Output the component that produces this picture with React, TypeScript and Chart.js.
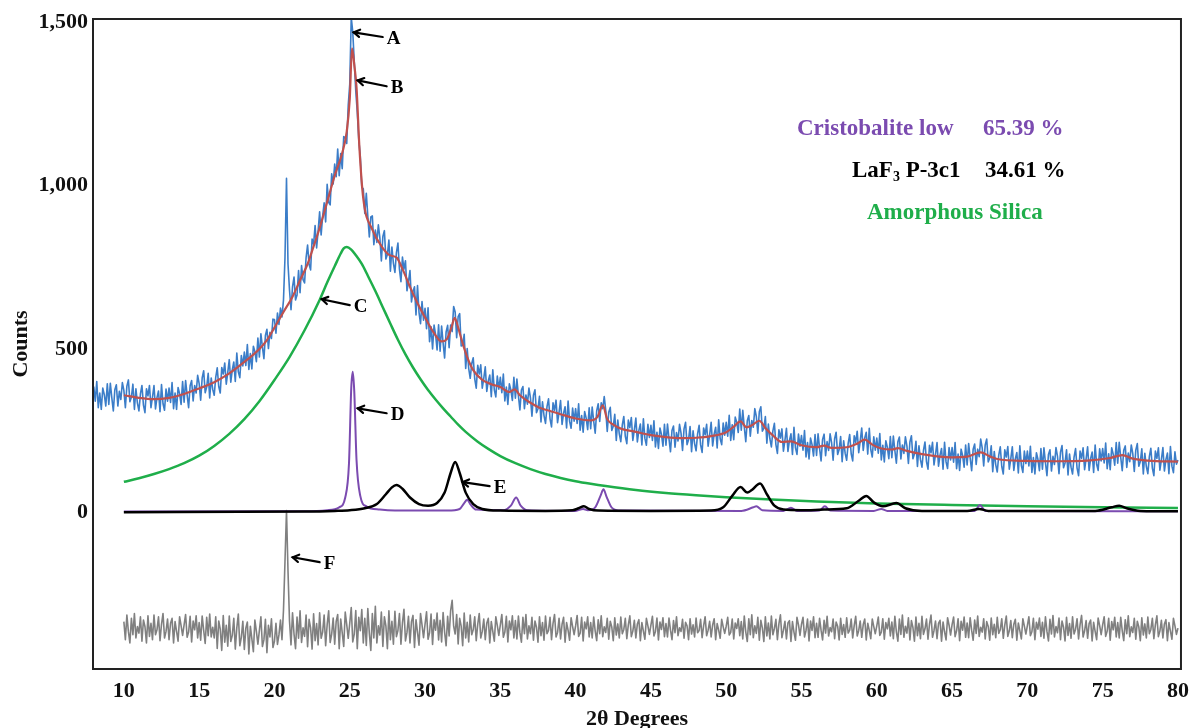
import React, { useEffect, useRef } from "react";
import { Chart, registerables } from "chart.js";

Chart.register(...registerables);

// ---------- data ----------
const X_MIN = 7.95;
const X_MAX = 80.2;
const Y_MIN = -480;
const Y_MAX = 1510;
const xTicks = [10, 15, 20, 25, 30, 35, 40, 45, 50, 55, 60, 65, 70, 75, 80];
const yTicks = [0, 500, 1000, 1500];

// observed pattern (blue), one row per degree, sampled every 0.1 degree from 8.0 to 80.0
const OBS_START = 8;
const OBS_STEP = 0.1;
const observed = [
  385, 340, 400, 320, 365, 315, 380, 360, 325, 393, // 8
  330, 395, 350, 310, 375, 390, 325, 370, 345, 397, // 9
  373, 320, 386, 405, 338, 352, 392, 315, 378, 334, // 10
  310, 362, 388, 328, 305, 378, 356, 388, 320, 352, // 11
  388, 316, 351, 371, 308, 391, 332, 312, 377, 340, // 12
  380, 336, 397, 317, 365, 315, 382, 363, 330, 400, // 13
  337, 403, 359, 320, 387, 403, 341, 388, 365, 419, // 14
  394, 343, 411, 433, 366, 383, 425, 350, 411, 376, // 15
  358, 413, 442, 385, 365, 443, 423, 457, 392, 428, // 16
  467, 398, 436, 460, 400, 487, 430, 412, 480, 448, // 17
  490, 449, 513, 437, 486, 439, 508, 492, 461, 533, // 18
  475, 546, 506, 470, 541, 560, 501, 551, 532, 591, // 19
  590, 548, 610, 575, 625, 598, 650, 780, 1022, 760, // 20
  680, 620, 690, 720, 650, 665, 740, 672, 755, 712, // 21
  702, 779, 818, 759, 742, 836, 820, 878, 809, 861, // 22
  920, 849, 906, 947, 889, 1004, 949, 941, 1036, 1005, // 23
  1066, 1027, 1112, 1030, 1098, 1052, 1150, 1146, 1129, 1246, // 24
  1310, 1515, 1470, 1380, 1290, 1225, 1140, 1090, 995, 990, // 25
  915, 976, 906, 843, 904, 907, 819, 864, 826, 880, // 26
  840, 769, 844, 862, 775, 789, 833, 738, 812, 762, // 27
  734, 795, 824, 744, 706, 781, 744, 770, 678, 706, // 28
  740, 644, 676, 690, 604, 694, 612, 577, 645, 588, // 29
  624, 562, 626, 522, 568, 500, 573, 544, 497, 574, // 30
  493, 570, 518, 472, 552, 572, 504, 573, 553, 630, // 31
  613, 534, 599, 608, 509, 511, 545, 440, 501, 440, // 32
  410, 455, 473, 408, 380, 450, 423, 451, 380, 410, // 33
  445, 370, 402, 420, 354, 436, 375, 353, 417, 377, // 34
  413, 366, 423, 341, 383, 330, 393, 374, 342, 413, // 35
  349, 408, 357, 313, 374, 385, 317, 359, 331, 380, // 36
  350, 294, 358, 375, 305, 317, 355, 276, 338, 296, // 37
  272, 323, 347, 286, 261, 335, 312, 343, 274, 306, // 38
  342, 269, 303, 323, 258, 340, 278, 257, 319, 279, // 39
  317, 272, 332, 251, 296, 245, 308, 288, 253, 320, // 40
  256, 322, 279, 242, 310, 332, 278, 335, 317, 354, // 41
  312, 247, 306, 321, 250, 263, 300, 220, 282, 240, // 42
  216, 267, 293, 232, 210, 282, 259, 290, 220, 252, // 43
  288, 215, 250, 270, 206, 286, 226, 205, 269, 229, // 44
  266, 220, 280, 200, 245, 195, 258, 238, 202, 269, // 45
  205, 270, 225, 185, 250, 264, 199, 244, 218, 269, // 46
  242, 189, 255, 275, 207, 222, 262, 185, 249, 210, // 47
  188, 240, 266, 206, 183, 258, 237, 269, 202, 237, // 48
  275, 203, 239, 260, 197, 283, 225, 207, 273, 236, // 49
  275, 233, 297, 220, 268, 222, 291, 275, 244, 316, // 50
  251, 312, 261, 216, 280, 296, 233, 281, 260, 317, // 51
  293, 242, 308, 323, 248, 257, 293, 211, 270, 225, // 52
  200, 249, 272, 207, 180, 252, 227, 255, 187, 220, // 53
  257, 186, 220, 240, 177, 260, 197, 177, 239, 202, // 54
  235, 190, 250, 169, 213, 163, 227, 207, 172, 238, // 55
  174, 240, 196, 157, 223, 239, 173, 216, 189, 240, // 56
  212, 159, 225, 245, 177, 192, 232, 155, 219, 180, // 57
  159, 211, 238, 179, 157, 234, 214, 248, 182, 218, // 58
  258, 189, 227, 245, 178, 257, 192, 169, 231, 190, // 59
  227, 181, 241, 160, 205, 154, 219, 199, 164, 232, // 60
  167, 233, 189, 150, 216, 230, 163, 206, 180, 231, // 61
  203, 149, 215, 234, 164, 178, 217, 140, 203, 161, // 62
  138, 189, 215, 155, 132, 205, 182, 214, 145, 177, // 63
  213, 141, 175, 195, 132, 214, 154, 134, 198, 160, // 64
  198, 153, 213, 133, 178, 128, 193, 173, 138, 206, // 65
  145, 210, 166, 127, 193, 209, 146, 193, 170, 224, // 66
  197, 142, 206, 224, 154, 166, 203, 124, 186, 145, // 67
  123, 175, 200, 140, 117, 191, 169, 201, 132, 164, // 68
  200, 128, 163, 183, 120, 203, 143, 122, 187, 149, // 69
  187, 142, 202, 122, 167, 117, 182, 162, 127, 195, // 70
  132, 197, 152, 112, 177, 191, 126, 171, 146, 198, // 71
  171, 118, 184, 204, 136, 151, 191, 114, 178, 138, // 72
  117, 169, 195, 135, 112, 187, 165, 197, 130, 163, // 73
  200, 128, 164, 184, 122, 206, 147, 128, 194, 157, // 74
  195, 151, 212, 133, 179, 130, 197, 178, 144, 213, // 75
  150, 214, 168, 127, 190, 203, 137, 181, 155, 206, // 76
  179, 125, 190, 210, 141, 155, 194, 117, 180, 140, // 77
  118, 170, 196, 135, 112, 187, 165, 197, 129, 161, // 78
  198, 126, 161, 181, 118, 201, 141, 121, 185, 147, // 79
  160, // 80
];

// difference curve (grey), one row per degree, sampled every 0.1 degree from 10.0 to 80.0
const DIFF_START = 10;
const DIFF_STEP = 0.1;
const difference = [
  -335, -390, -315, -365, -400, -325, -375, -310, -385, -350, // 10
  -370, -320, -395, -330, -350, -400, -317, -380, -340, -390, // 11
  -315, -375, -360, -320, -393, -343, -310, -385, -365, -327, // 12
  -390, -340, -325, -400, -335, -365, -395, -320, -347, -377, // 13
  -345, -313, -383, -367, -319, -397, -333, -360, -317, -385, // 14
  -338, -392, -318, -362, -402, -322, -378, -312, -382, -352, // 15
  -385, -320, -417, -333, -358, -423, -316, -398, -346, -410, // 16
  -318, -396, -377, -325, -419, -354, -312, -409, -383, -334, // 17
  -420, -355, -336, -434, -349, -388, -427, -330, -365, -404, // 18
  -362, -320, -411, -391, -328, -430, -346, -382, -326, -414, // 19
  -395, -340, -405, -375, -330, -390, -300, -150, 5, -180, // 20
  -334, -406, -308, -373, -418, -321, -386, -302, -399, -354, // 21
  -380, -315, -412, -328, -354, -419, -311, -393, -341, -406, // 22
  -308, -386, -367, -315, -409, -344, -302, -399, -373, -324, // 23
  -404, -334, -313, -418, -327, -369, -411, -306, -344, -386, // 24
  -340, -292, -397, -373, -301, -418, -322, -363, -298, -400, // 25
  -325, -408, -295, -370, -423, -310, -385, -288, -400, -348, // 26
  -376, -306, -411, -320, -348, -418, -302, -390, -334, -404, // 27
  -303, -381, -362, -310, -404, -339, -297, -394, -368, -319, // 28
  -400, -335, -316, -414, -329, -368, -407, -310, -345, -384, // 29
  -343, -305, -389, -369, -312, -405, -329, -361, -309, -391, // 30
  -331, -397, -307, -367, -409, -319, -379, -301, -270, -349, // 31
  -373, -313, -403, -325, -349, -409, -309, -385, -337, -397, // 32
  -315, -375, -360, -320, -393, -343, -310, -385, -365, -327, // 33
  -390, -340, -325, -400, -335, -365, -395, -320, -347, -377, // 34
  -345, -313, -383, -367, -319, -397, -333, -360, -317, -385, // 35
  -332, -388, -318, -368, -398, -322, -372, -313, -388, -348, // 36
  -372, -322, -392, -333, -352, -398, -320, -378, -338, -392, // 37
  -318, -372, -362, -322, -390, -340, -313, -382, -368, -325, // 38
  -388, -343, -322, -398, -338, -362, -392, -323, -350, -375, // 39
  -348, -316, -380, -370, -322, -394, -336, -357, -320, -382, // 40
  -338, -385, -321, -364, -393, -329, -372, -317, -381, -351, // 41
  -368, -325, -389, -334, -351, -393, -323, -376, -342, -385, // 42
  -321, -372, -359, -325, -387, -345, -317, -381, -364, -331, // 43
  -385, -342, -329, -393, -338, -364, -389, -325, -348, -374, // 44
  -346, -319, -379, -365, -324, -391, -336, -359, -323, -381, // 45
  -341, -382, -324, -361, -390, -332, -369, -320, -378, -354, // 46
  -365, -328, -386, -337, -348, -390, -326, -373, -345, -382, // 47
  -324, -369, -362, -328, -384, -348, -320, -378, -361, -334, // 48
  -382, -345, -326, -390, -341, -361, -386, -328, -351, -371, // 49
  -349, -322, -376, -368, -327, -388, -339, -356, -326, -378, // 50
  -335, -388, -318, -367, -396, -326, -375, -314, -384, -348, // 51
  -371, -322, -392, -331, -354, -396, -320, -379, -339, -388, // 52
  -318, -375, -356, -328, -390, -342, -314, -384, -361, -334, // 53
  -388, -339, -332, -396, -335, -367, -392, -322, -345, -377, // 54
  -343, -322, -382, -362, -327, -394, -333, -362, -320, -384, // 55
  -340, -383, -325, -361, -391, -331, -370, -319, -379, -353, // 56
  -366, -327, -387, -336, -349, -391, -325, -374, -344, -383, // 57
  -323, -370, -361, -327, -385, -347, -319, -379, -362, -333, // 58
  -383, -344, -327, -391, -340, -362, -387, -327, -350, -372, // 59
  -348, -321, -377, -367, -326, -389, -338, -357, -325, -379, // 60
  -336, -387, -319, -366, -395, -327, -374, -315, -383, -349, // 61
  -370, -323, -391, -332, -353, -395, -321, -378, -340, -387, // 62
  -319, -374, -357, -327, -389, -343, -315, -383, -362, -333, // 63
  -387, -340, -331, -395, -336, -366, -391, -323, -346, -376, // 64
  -344, -321, -381, -363, -326, -393, -334, -361, -321, -383, // 65
  -339, -384, -323, -362, -392, -330, -371, -318, -380, -352, // 66
  -367, -326, -388, -335, -350, -392, -324, -375, -343, -384, // 67
  -322, -371, -360, -326, -386, -346, -318, -380, -363, -332, // 68
  -384, -343, -328, -392, -339, -363, -388, -326, -349, -373, // 69
  -347, -320, -378, -366, -325, -390, -337, -358, -324, -380, // 70
  -337, -386, -320, -365, -394, -328, -373, -316, -382, -350, // 71
  -369, -324, -390, -333, -352, -394, -322, -377, -341, -386, // 72
  -320, -373, -358, -326, -388, -344, -316, -382, -363, -332, // 73
  -386, -341, -330, -394, -337, -365, -390, -324, -347, -375, // 74
  -345, -320, -380, -364, -325, -392, -335, -360, -322, -382, // 75
  -338, -385, -322, -363, -393, -329, -372, -317, -381, -351, // 76
  -368, -325, -389, -334, -351, -393, -323, -376, -342, -385, // 77
  -321, -372, -359, -325, -387, -345, -317, -381, -364, -331, // 78
  -385, -342, -329, -393, -338, -364, -389, -325, -348, -374, // 79
  -355, // 80
];

// calculated fit (red) [2theta, counts]
const calculated: [number, number][] = [
  [10, 358], [11, 350], [12, 346], [13, 350], [14, 362], [15, 379], [16, 398], [17, 425],
  [18, 460], [19, 500], [19.5, 527], [20, 565], [20.6, 613], [21.2, 660], [21.7, 710],
  [22.2, 760], [22.5, 800], [23, 870], [23.5, 950], [24, 1030], [24.5, 1100], [24.8, 1165],
  [25.0, 1265], [25.15, 1420], [25.3, 1370], [25.45, 1300], [25.65, 1110], [25.9, 960],
  [26.5, 865], [27.1, 815], [27.65, 787], [28.1, 780], [28.5, 745], [29, 690], [29.5, 640],
  [30.1, 588], [30.6, 548], [31.1, 523], [31.45, 530], [31.75, 565], [31.97, 595], [32.2, 565],
  [32.5, 517], [32.8, 475], [33.2, 435], [33.8, 405], [34.4, 392], [35, 383], [35.6, 368],
  [35.95, 376], [36.3, 358], [37, 335], [37.6, 320], [38.3, 310], [39, 300], [40, 287],
  [41, 281], [41.45, 292], [41.8, 327], [42.1, 285], [42.5, 268], [43, 256], [44, 246],
  [45, 236], [46, 230], [47, 227], [48, 228], [49, 233], [50, 245], [50.5, 262], [50.95, 278],
  [51.35, 260], [51.7, 266], [52.2, 280], [52.6, 258], [53.1, 235], [53.7, 215], [54.3, 217],
  [55, 205], [56, 199], [56.5, 204], [57, 197], [58, 199], [58.7, 210], [59.2, 222],
  [59.7, 207], [60.3, 195], [61, 192], [61.4, 196], [62, 188], [63, 178], [64, 171], [65, 168],
  [66, 170], [66.9, 183], [67.5, 171], [68, 163], [70, 157], [72, 156], [74, 158], [75.5, 166],
  [76.3, 175], [77, 164], [78, 158], [80, 155],
];

// amorphous silica (green)
const amorphous: [number, number][] = [
  [10, 93], [11, 104], [12, 117], [13, 132], [14, 150], [15, 173], [16, 203], [17, 240],
  [18, 285], [19, 340], [20, 405], [21, 475], [22, 557], [23, 650], [23.5, 703], [24, 753],
  [24.4, 792], [24.6, 808], [24.8, 812], [25.1, 804], [25.4, 787], [25.8, 760], [26.2, 724],
  [26.7, 677], [27.2, 627], [27.7, 577], [28.2, 528], [28.7, 483], [29.2, 443], [29.7, 407],
  [30.2, 374], [30.7, 345], [31.2, 318], [31.7, 293], [32.2, 268], [32.7, 246], [33.5, 216],
  [34.2, 194], [35, 172], [36, 150], [37, 132], [38, 117], [39, 105], [40, 95], [41, 87],
  [42, 80], [44, 68], [46, 59], [48, 52], [50, 46], [53, 39], [56, 33], [60, 27], [65, 22],
  [70, 18], [75, 15], [80, 13],
];

// cristobalite low (purple)
const cristobalite: [number, number][] = [
  [10, 2], [22, 3], [23.5, 6], [24.3, 15], [24.7, 45], [24.95, 150], [25.1, 380], [25.2, 430],
  [25.3, 370], [25.45, 160], [25.7, 50], [26.1, 18], [27, 8], [28, 5], [31.5, 5], [32.3, 10],
  [32.6, 28], [32.8, 38], [33.0, 25], [33.4, 8], [35.2, 6], [35.7, 20], [36.05, 45], [36.35, 20],
  [36.8, 6], [40, 4], [40.5, 10], [40.8, 6], [41.3, 15], [41.65, 50], [41.85, 70], [42.05, 48],
  [42.4, 14], [43, 5], [51, 4], [51.8, 15], [52, 18], [52.4, 6], [53.8, 4], [54.3, 14],
  [54.7, 4], [56.2, 5], [56.55, 18], [56.9, 5], [59.8, 4], [60.3, 10], [60.7, 4], [66.5, 4],
  [66.85, 22], [67.2, 4], [80, 3],
];

// LaF3 P-3c1 (black)
const lanthanumFluoride: [number, number][] = [
  [10, 0], [22, 2], [24, 4], [25, 6], [26, 12], [26.8, 25], [27.4, 55], [27.8, 76], [28.1, 83],
  [28.5, 72], [29, 45], [29.6, 25], [30.2, 20], [30.8, 28], [31.3, 60], [31.7, 120], [32, 154],
  [32.3, 120], [32.7, 60], [33.2, 25], [33.8, 10], [35, 5], [38, 4], [39.8, 6], [40.2, 12],
  [40.55, 18], [40.9, 10], [41.5, 5], [45, 4], [49, 5], [49.8, 15], [50.4, 50], [50.95, 77],
  [51.4, 60], [51.7, 68], [52.25, 88], [52.7, 55], [53.2, 20], [53.8, 8], [55, 6], [56.5, 8],
  [58, 12], [58.8, 35], [59.3, 50], [59.8, 30], [60.4, 18], [61.3, 28], [61.9, 12], [63, 4],
  [66, 4], [66.8, 10], [67.4, 4], [74.5, 4], [75.6, 15], [76.1, 20], [76.6, 12], [77.5, 4],
  [80, 3],
];

// callout labels: [label, tip 2theta, tip counts, tail 2theta, tail counts]
const callouts: [string, number, number, number, number][] = [
  ["A", 25.26, 1469, 27.19, 1455],
  ["B", 25.53, 1322, 27.45, 1304],
  ["C", 23.14, 652, 25.0, 634],
  ["D", 25.53, 318, 27.45, 303],
  ["E", 32.5, 92, 34.29, 80],
  ["F", 21.21, -138, 23.0, -153],
];

const phaseNames = ["Cristobalite low", "LaF", "Amorphous Silica"];
const phasePercents = ["65.39 %", "34.61 %", ""];

// ---------- styles ----------
const SERIF = '"Liberation Serif", "Times New Roman", serif';
const C_BLUE = "#3b7dc8";
const C_RED = "#c0504d";
const C_GREEN = "#1fae4a";
const C_PURPLE = "#7b4bb0";
const C_BLACK = "#000000";
const C_GREY = "#808080";

const pairs = (arr: [number, number][]) => arr.map(([x, y]) => ({ x, y }));

const overlayPlugin = {
  id: "overlay",
  afterDatasetsDraw(chart: any) {
    const { ctx, chartArea, scales } = chart;
    const xs = scales.x;
    const ys = scales.y;
    ctx.save();
    // frame
    ctx.strokeStyle = "#222";
    ctx.lineWidth = 2;
    ctx.strokeRect(chartArea.left, chartArea.top, chartArea.right - chartArea.left, chartArea.bottom - chartArea.top);

    // callouts
    ctx.strokeStyle = "#000";
    ctx.fillStyle = "#000";
    ctx.lineWidth = 2.2;
    ctx.lineCap = "round";
    ctx.font = `bold 19px ${SERIF}`;
    ctx.textBaseline = "middle";
    ctx.textAlign = "left";
    for (const [label, tx, ty, ex, ey] of callouts) {
      const x1 = xs.getPixelForValue(tx);
      const y1 = ys.getPixelForValue(ty);
      const x2 = xs.getPixelForValue(ex);
      const y2 = ys.getPixelForValue(ey);
      ctx.beginPath();
      ctx.moveTo(x2, y2);
      ctx.lineTo(x1, y1);
      ctx.stroke();
      const ang = Math.atan2(y2 - y1, x2 - x1);
      const h = 7;
      ctx.beginPath();
      ctx.moveTo(x1 + h * Math.cos(ang - 0.55), y1 + h * Math.sin(ang - 0.55));
      ctx.lineTo(x1, y1);
      ctx.lineTo(x1 + h * Math.cos(ang + 0.55), y1 + h * Math.sin(ang + 0.55));
      ctx.stroke();
      ctx.fillText(label, x2 + 4, y2 + 2);
    }

    // phase legend text
    ctx.font = `bold 23px ${SERIF}`;
    ctx.textBaseline = "middle";
    ctx.fillStyle = C_PURPLE;
    ctx.fillText(phaseNames[0], 797, 129);
    ctx.fillText(phasePercents[0], 983, 129);

    ctx.fillStyle = C_BLACK;
    ctx.fillText(phaseNames[1], 852, 171);
    const w = ctx.measureText(phaseNames[1]).width;
    ctx.font = `bold 14px ${SERIF}`;
    ctx.fillText("3", 852 + w, 177);
    const w3 = ctx.measureText("3").width;
    ctx.font = `bold 23px ${SERIF}`;
    ctx.fillText(" P-3c1", 852 + w + w3, 171);
    ctx.fillText(phasePercents[1], 985, 171);

    ctx.fillStyle = C_GREEN;
    ctx.fillText(phaseNames[2], 867, 213);
    ctx.restore();
  },
};

export default function App() {
  const ref = useRef<HTMLCanvasElement | null>(null);

  useEffect(() => {
    if (!ref.current) return;
    const obsData = observed.map((y, i) => ({ x: Math.round((OBS_START + i * OBS_STEP) * 10) / 10, y }));
    const diffData = difference.map((y, i) => ({ x: Math.round((DIFF_START + i * DIFF_STEP) * 10) / 10, y }));

    const common = { pointRadius: 0, fill: false, borderJoinStyle: "round" as const };

    const chart = new Chart(ref.current, {
      type: "line",
      data: {
        datasets: [
          { ...common, label: "Calculated", data: pairs(calculated), borderColor: C_RED, borderWidth: 2.2, cubicInterpolationMode: "monotone" },
          { ...common, label: "LaF3 P-3c1", data: pairs(lanthanumFluoride), borderColor: C_BLACK, borderWidth: 2.5, cubicInterpolationMode: "monotone" },
          { ...common, label: "Cristobalite low", data: pairs(cristobalite), borderColor: C_PURPLE, borderWidth: 2, cubicInterpolationMode: "monotone" },
          { ...common, label: "Amorphous Silica", data: pairs(amorphous), borderColor: C_GREEN, borderWidth: 2.5, cubicInterpolationMode: "monotone" },
          { ...common, label: "Difference", data: diffData, borderColor: C_GREY, borderWidth: 1.6 },
          { ...common, label: "Observed", data: obsData, borderColor: C_BLUE, borderWidth: 1.6 },
        ],
      },
      options: {
        animation: false,
        responsive: false,
        maintainAspectRatio: false,
        layout: { padding: { top: 19, right: 15, left: 0, bottom: 0 } },
        plugins: { legend: { display: false }, tooltip: { enabled: false } },
        scales: {
          x: {
            type: "linear",
            min: X_MIN,
            max: X_MAX,
            grid: { display: false, drawTicks: false },
            border: { display: false },
            afterBuildTicks: (s: any) => { s.ticks = xTicks.map((v) => ({ value: v })); },
            afterFit: (s: any) => { s.height = 59; },
            ticks: { padding: 9, color: "#111", font: { family: SERIF, size: 22, weight: "bold" }, maxRotation: 0 },
            title: { display: true, text: "2θ Degrees", color: "#111", padding: { top: 0, bottom: -5 }, font: { family: SERIF, size: 22, weight: "bold" } },
          },
          y: {
            type: "linear",
            min: Y_MIN,
            max: Y_MAX,
            grid: { display: false, drawTicks: false },
            border: { display: false },
            afterBuildTicks: (s: any) => { s.ticks = yTicks.map((v) => ({ value: v })); },
            afterFit: (s: any) => { s.width = 93; },
            ticks: {
              padding: 5,
              color: "#111",
              font: { family: SERIF, size: 22, weight: "bold" },
              callback: (v: any) => Number(v).toLocaleString("en-US"),
            },
            title: { display: true, text: "Counts", color: "#111", padding: { top: 8, bottom: 0 }, font: { family: SERIF, size: 22, weight: "bold" } },
          },
        },
      },
      plugins: [overlayPlugin],
    });
    return () => chart.destroy();
  }, []);

  return (
    <div style={{ position: "fixed", left: 0, top: 0, width: 1198, height: 728, background: "#fff" }}>
      <canvas ref={ref} width={1198} height={728} style={{ width: 1198, height: 728, display: "block" }} />
    </div>
  );
}
